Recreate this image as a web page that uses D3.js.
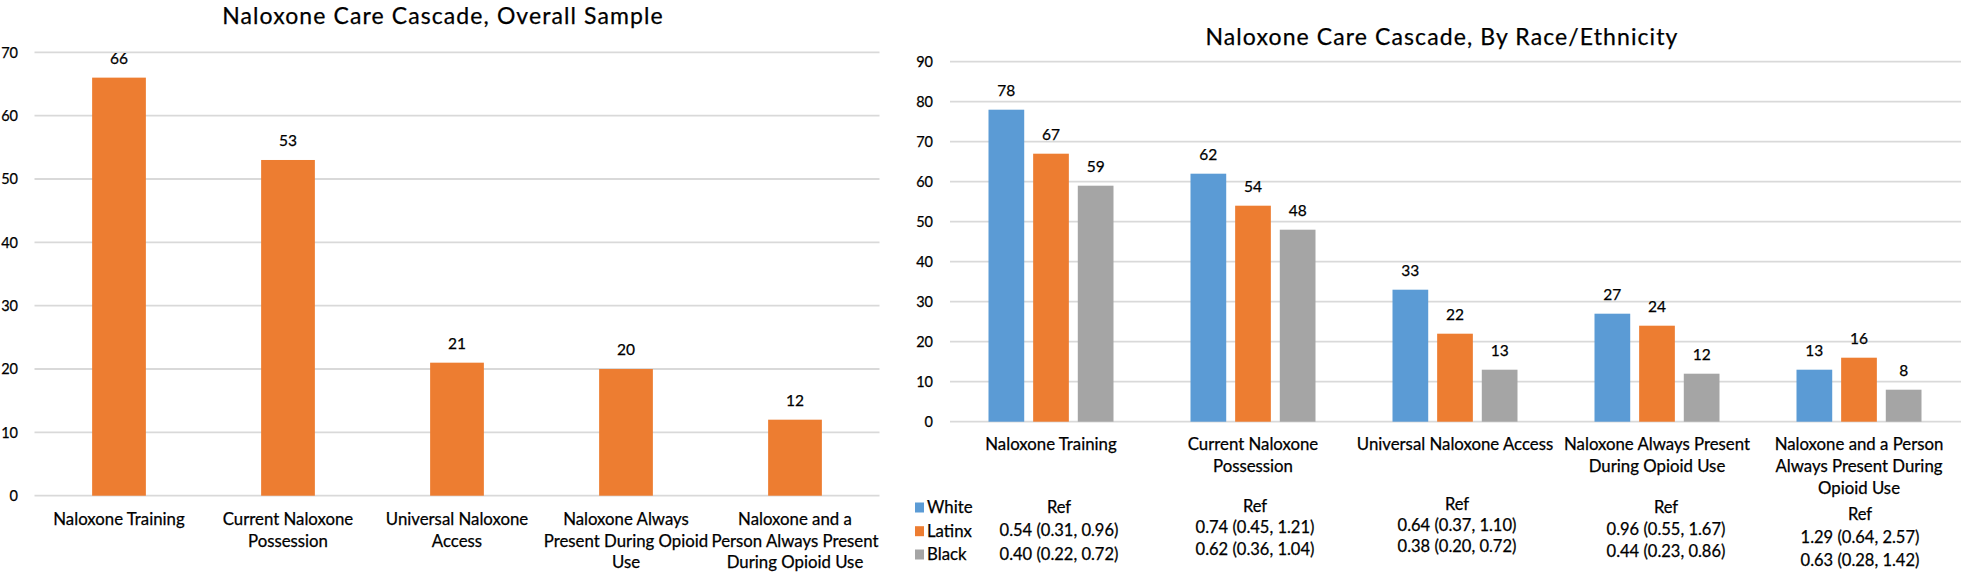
<!DOCTYPE html>
<html><head><meta charset="utf-8">
<script src="https://cdn.jsdelivr.net/npm/d3@7"></script>
<style>
body{margin:0;background:#fff;}
svg{display:block;font-family:Lato,"Open Sans",sans-serif;}
svg text{stroke:#000;stroke-width:0.25px;}
</style></head><body>
<svg id="c" width="1961" height="572"></svg>
<script>
const categories = ["Naloxone Training","Current Naloxone Possession","Universal Naloxone Access","Naloxone Always Present During Opioid Use","Naloxone and a Person Always Present During Opioid Use"];
const leftLabelLines = [["Naloxone Training"],["Current Naloxone","Possession"],["Universal Naloxone","Access"],["Naloxone Always","Present During Opioid","Use"],["Naloxone and a","Person Always Present","During Opioid Use"]];
const rightLabelLines = [["Naloxone Training"],["Current Naloxone","Possession"],["Universal Naloxone Access"],["Naloxone Always Present","During Opioid Use"],["Naloxone and a Person","Always Present During","Opioid Use"]];
const overallValues = [66,53,21,20,12];
const series = ["White","Latinx","Black"];
const whiteValues = [78,62,33,27,13];
const latinxValues = [67,54,22,24,16];
const blackValues = [59,48,13,12,8];
const leftTicks = [0,10,20,30,40,50,60,70];
const rightTicks = [0,10,20,30,40,50,60,70,80,90];
const refHeader = ["Ref","Ref","Ref","Ref","Ref"];
const refLatinx = ["0.54 (0.31, 0.96)","0.74 (0.45, 1.21)","0.64 (0.37, 1.10)","0.96 (0.55, 1.67)","1.29 (0.64, 2.57)"];
const refBlack = ["0.40 (0.22, 0.72)","0.62 (0.36, 1.04)","0.38 (0.20, 0.72)","0.44 (0.23, 0.86)","0.63 (0.28, 1.42)"];
const leftTitle = "Naloxone Care Cascade, Overall Sample";
const rightTitle = "Naloxone Care Cascade, By Race/Ethnicity";

const colors = {Overall:"#ED7D31", White:"#5B9BD5", Latinx:"#ED7D31", Black:"#A5A5A5"};
const gridColor = "#D9D9D9";
const textColor = "#000";
const tickSize = 14.5, valueSize = 15.5, catSize = 16.8, refSize = 16.5, titleSize = 23;
const svg = d3.select("#c");

// ---------- Left chart ----------
const xL = d3.scaleBand().domain(categories).range([34.5, 879.5]);
const yL = d3.scaleLinear().domain([0,70]).range([495.7, 52.3]);
const gL = svg.append("g");
gL.append("g").selectAll("line").data(leftTicks).join("line")
  .attr("x1",34.5).attr("x2",879.5).attr("y1",d=>yL(d)).attr("y2",d=>yL(d))
  .attr("stroke",gridColor).attr("stroke-width",1.8);
gL.append("g").selectAll("text").data(leftTicks).join("text")
  .attr("x",18).attr("y",d=>yL(d)).attr("dy","0.36em").attr("text-anchor","end")
  .attr("font-size",tickSize).attr("fill",textColor).text(d=>d);
const bwL = xL.bandwidth()*0.318;
gL.append("g").selectAll("rect").data(overallValues).join("rect")
  .attr("x",(d,i)=>xL(categories[i])+xL.bandwidth()/2-bwL/2).attr("width",bwL)
  .attr("y",d=>yL(d)).attr("height",d=>yL(0)-yL(d)).attr("fill",colors.Overall);
gL.append("g").selectAll("text").data(overallValues).join("text")
  .attr("x",(d,i)=>xL(categories[i])+xL.bandwidth()/2).attr("y",d=>yL(d)-14)
  .attr("text-anchor","middle").attr("font-size",valueSize).attr("fill",textColor).text(d=>d);
gL.append("g").selectAll("text").data(leftLabelLines).join("text")
  .attr("y",525).attr("text-anchor","middle").attr("font-size",catSize).attr("fill",textColor)
  .each(function(lines,i){
    const x = xL(categories[i])+xL.bandwidth()/2;
    d3.select(this).selectAll("tspan").data(lines).join("tspan")
      .attr("x",x).attr("dy",(l,j)=>j===0?0:21.7).text(l=>l);
  });
gL.append("text").attr("x",443).attr("y",23.5).attr("text-anchor","middle")
  .attr("font-size",titleSize).attr("letter-spacing",1.1).attr("fill",textColor).text(leftTitle);

// ---------- Right chart ----------
const xR = d3.scaleBand().domain(categories).range([950, 1960]);
const x1 = d3.scaleBand().domain(series).range([-62.5, 62.5]).paddingInner(0.2);
const yR = d3.scaleLinear().domain([0,90]).range([421.7, 61.7]);
const gR = svg.append("g");
gR.append("g").selectAll("line").data(rightTicks).join("line")
  .attr("x1",950).attr("x2",1961).attr("y1",d=>yR(d)).attr("y2",d=>yR(d))
  .attr("stroke",gridColor).attr("stroke-width",1.8);
gR.append("g").selectAll("text").data(rightTicks).join("text")
  .attr("x",933).attr("y",d=>yR(d)).attr("dy","0.36em").attr("text-anchor","end")
  .attr("font-size",tickSize).attr("fill",textColor).text(d=>d);
const seriesValues = {White:whiteValues, Latinx:latinxValues, Black:blackValues};
const barData = [];
categories.forEach((c,i)=>series.forEach(s=>barData.push({c, s, v:seriesValues[s][i]})));
gR.append("g").selectAll("rect").data(barData).join("rect")
  .attr("x",d=>xR(d.c)+xR.bandwidth()/2+x1(d.s)).attr("width",x1.bandwidth())
  .attr("y",d=>yR(d.v)).attr("height",d=>yR(0)-yR(d.v)).attr("fill",d=>colors[d.s]);
gR.append("g").selectAll("text").data(barData).join("text")
  .attr("x",d=>xR(d.c)+xR.bandwidth()/2+x1(d.s)+x1.bandwidth()/2).attr("y",d=>yR(d.v)-14)
  .attr("text-anchor","middle").attr("font-size",valueSize).attr("fill",textColor).text(d=>d.v);
gR.append("g").selectAll("text").data(rightLabelLines).join("text")
  .attr("y",450).attr("text-anchor","middle").attr("font-size",catSize).attr("fill",textColor)
  .each(function(lines,i){
    const x = xR(categories[i])+xR.bandwidth()/2;
    d3.select(this).selectAll("tspan").data(lines).join("tspan")
      .attr("x",x).attr("dy",(l,j)=>j===0?0:22).text(l=>l);
  });
gR.append("text").attr("x",1442).attr("y",45).attr("text-anchor","middle")
  .attr("font-size",titleSize).attr("letter-spacing",1.1).attr("fill",textColor).text(rightTitle);

// Legend
const legendRows = [513, 536.7, 560];
const lg = gR.append("g");
series.forEach((s,i)=>{
  lg.append("rect").attr("x",915).attr("y",legendRows[i]-10.5).attr("width",9).attr("height",10).attr("fill",colors[s]);
  lg.append("text").attr("x",927).attr("y",legendRows[i]).attr("font-size",catSize).attr("fill",textColor).text(s);
});

// Ref annotations (odds ratios)
const refDx = [8,2,2,9,1];
const refTop = [513,511.7,510,513,520];
const refGap = [23.3,21.7,21,22,23];
const refRows = categories.map((c,i)=>[refHeader[i],refLatinx[i],refBlack[i]]);
gR.append("g").selectAll("text").data(refRows).join("text")
  .attr("text-anchor","middle").attr("font-size",refSize).attr("fill",textColor)
  .attr("y",(d,i)=>refTop[i])
  .each(function(lines,i){
    const x = xR(categories[i])+xR.bandwidth()/2+refDx[i];
    d3.select(this).selectAll("tspan").data(lines).join("tspan")
      .attr("x",x).attr("dy",(l,j)=>j===0?0:refGap[i]).text(l=>l);
  });
</script>
</body></html>
